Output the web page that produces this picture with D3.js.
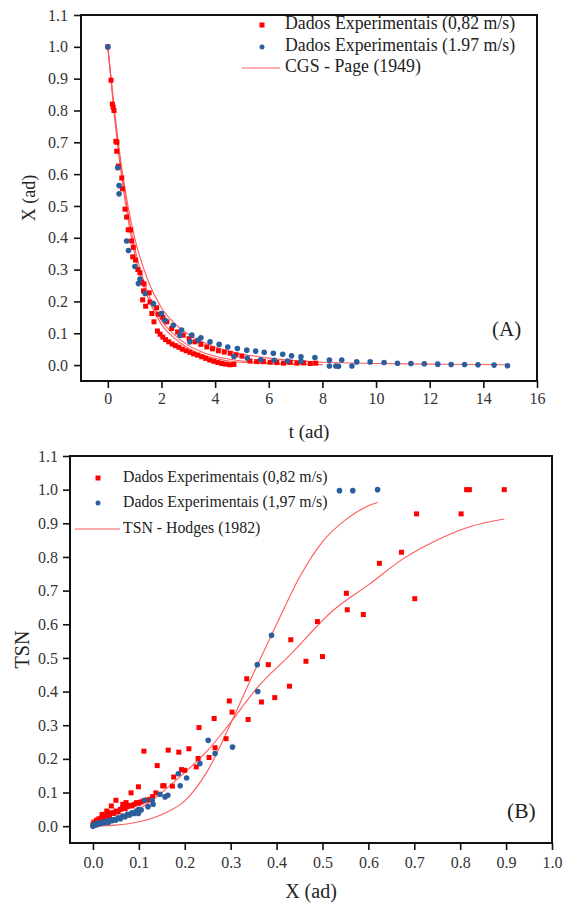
<!DOCTYPE html>
<html>
<head>
<meta charset="utf-8">
<script src="https://cdn.jsdelivr.net/npm/d3@7"></script>
<style>
  html, body { margin: 0; padding: 0; background: #fff; }
  svg { display: block; }
</style>
</head>
<body>
<svg id="chart" width="564" height="904"></svg>
<script>
// ---------- Panel A: drying curves X(t) ----------
const aXTicks = [0, 2, 4, 6, 8, 10, 12, 14, 16];
const aYTicks = [0.0, 0.1, 0.2, 0.3, 0.4, 0.5, 0.6, 0.7, 0.8, 0.9, 1.0, 1.1];
const aLegend = ["Dados Experimentais (0,82 m/s)", "Dados Experimentais (1.97 m/s)", "CGS - Page (1949)"];

// 0,82 m/s, faster run
const aRedFastT = [0, 0.12, 0.2, 0.3, 0.39, 0.52, 0.64, 0.76, 0.89, 0.93, 1.12, 1.2, 1.3, 1.41, 1.57, 1.64, 1.72,
  1.85, 1.95, 2.05, 2.15, 2.27, 2.4, 2.52, 2.65, 2.78, 2.92, 3.06, 3.2, 3.35, 3.5, 3.65, 3.8, 3.95, 4.1, 4.25, 4.4, 4.55, 4.7];
const aRedFastX = [1.0, 0.895, 0.81, 0.703, 0.625, 0.588, 0.49, 0.425, 0.39, 0.34, 0.30, 0.29, 0.205, 0.185, 0.198, 0.162, 0.136,
  0.107, 0.097, 0.088, 0.080, 0.073, 0.066, 0.061, 0.056, 0.050, 0.045, 0.040, 0.035, 0.031, 0.026, 0.021, 0.016, 0.012, 0.008, 0.005, 0.003, 0.001, 0.002];
// 0,82 m/s, slower run
const aRedSlowT = [0.17, 0.23, 0.34, 0.33, 0.55, 0.70, 0.85, 0.95, 1.03, 1.26, 1.35, 1.33, 1.54, 1.82, 1.88, 2.05, 2.2, 2.38, 2.6, 2.81, 3.03, 3.25, 3.47, 3.69,
  3.9, 4.12, 4.34, 4.56, 4.78, 5.0, 5.3, 5.55, 5.8, 6.05, 6.3, 6.55, 6.8, 7.05, 7.3, 7.55, 7.75];
const aRedSlowX = [0.82, 0.80, 0.70, 0.672, 0.554, 0.465, 0.425, 0.37, 0.33, 0.26, 0.255, 0.233, 0.227, 0.18, 0.16, 0.15, 0.136, 0.115, 0.104, 0.094, 0.083, 0.073, 0.065, 0.057,
  0.051, 0.045, 0.041, 0.037, 0.032, 0.028, 0.013, 0.011, 0.012, 0.009, 0.008, 0.006, 0.009, 0.006, 0.007, 0.005, 0.006];
// 1.97 m/s
const aBlueT = [0, 0.37, 0.42, 0.42, 0.70, 0.77, 1.01, 1.14, 1.2, 1.39, 1.70, 2.0, 2.13, 2.44, 2.75, 3.13, 3.47, 3.81, 4.15, 4.47, 4.83, 5.18, 5.51, 5.83,
  6.17, 6.52, 6.85, 7.2, 7.72, 8.26, 8.72, 9.28, 9.78, 10.3, 10.8, 11.3, 11.8, 12.3, 12.8, 13.3, 13.8, 14.4, 14.9,
  2.69, 3.06, 3.37, 4.7, 5.2, 5.7, 6.2, 6.7, 7.2, 8.26, 8.5, 8.6, 9.1];
const aBlueX = [1.0, 0.62, 0.564, 0.538, 0.39, 0.36, 0.31, 0.256, 0.27, 0.225, 0.193, 0.162, 0.141, 0.125, 0.11, 0.094, 0.086, 0.073, 0.065, 0.057, 0.052, 0.047, 0.044, 0.04,
  0.037, 0.034, 0.029, 0.026, 0.024, 0.016, 0.016, 0.01, 0.01, 0.008, 0.006, 0.005, 0.004, 0.003, 0.002, 0.002, 0.001, 0.0, -0.002,
  0.094, 0.073, 0.078, 0.027, 0.022, 0.017, 0.015, 0.013, 0.012, -0.003, -0.003, -0.004, -0.003];

// Page model fits
const aFit1T = [0, 0.25, 0.5, 0.75, 1, 1.5, 2, 2.5, 3, 3.5, 4, 4.5, 5, 6, 7, 8];
const aFit1X = [1, 0.79, 0.62, 0.48, 0.37, 0.225, 0.14, 0.094, 0.062, 0.041, 0.028, 0.019, 0.013, 0.007, 0.004, 0.002];
const aFit2T = [0, 0.25, 0.5, 0.75, 1, 1.5, 2, 2.5, 3, 3.5, 4, 4.5, 5, 6, 7, 8];
const aFit2X = [1, 0.78, 0.6, 0.46, 0.35, 0.21, 0.128, 0.083, 0.053, 0.033, 0.021, 0.013, 0.009, 0.004, 0.002, 0.001];
const aFit3T = [0, 0.25, 0.5, 0.75, 1, 1.5, 2, 2.5, 3, 3.5, 4, 5, 6, 7, 8, 10, 12, 14.9];
const aFit3X = [1, 0.8, 0.63, 0.5, 0.4, 0.265, 0.18, 0.13, 0.097, 0.074, 0.057, 0.035, 0.022, 0.014, 0.009, 0.005, 0.003, 0.001];

// ---------- Panel B: TSN vs X ----------
const bXTicks = [0.0, 0.1, 0.2, 0.3, 0.4, 0.5, 0.6, 0.7, 0.8, 0.9, 1.0];
const bYTicks = [0.0, 0.1, 0.2, 0.3, 0.4, 0.5, 0.6, 0.7, 0.8, 0.9, 1.0, 1.1];
const bLegend = ["Dados Experimentais (0,82 m/s)", "Dados Experimentais (1,97 m/s)", "TSN - Hodges (1982)"];

const bRedX = [0.0, 0.002, 0.005, 0.008, 0.01, 0.013, 0.016, 0.02, 0.024, 0.028, 0.032, 0.036, 0.04, 0.045, 0.05, 0.055, 0.06, 0.065, 0.07, 0.075,
  0.08, 0.085, 0.09, 0.095, 0.1, 0.105, 0.11, 0.118, 0.125, 0.13, 0.05, 0.072, 0.083, 0.099, 0.04, 0.03, 0.02, 0.065,
  0.111, 0.14, 0.164, 0.187, 0.209, 0.137, 0.152, 0.155, 0.173, 0.176, 0.193, 0.2, 0.225, 0.229, 0.231, 0.253, 0.264, 0.266,
  0.29, 0.297, 0.303, 0.335, 0.338, 0.367, 0.382, 0.396, 0.428, 0.431, 0.464, 0.489, 0.5, 0.552, 0.554, 0.589, 0.624, 0.672,
  0.701, 0.705, 0.802, 0.814, 0.82, 0.896];
const bRedY = [0.005, 0.012, 0.01, 0.018, 0.015, 0.022, 0.02, 0.028, 0.025, 0.03, 0.035, 0.03, 0.04, 0.038, 0.045, 0.042, 0.05, 0.055, 0.052, 0.058,
  0.062, 0.06, 0.065, 0.07, 0.068, 0.072, 0.075, 0.078, 0.08, 0.088, 0.077, 0.07, 0.099, 0.117, 0.06, 0.045, 0.035, 0.065,
  0.223, 0.18, 0.226, 0.22, 0.23, 0.099, 0.12, 0.12, 0.119, 0.146, 0.168, 0.166, 0.176, 0.201, 0.293, 0.204, 0.32, 0.233,
  0.26, 0.372, 0.339, 0.438, 0.317, 0.369, 0.48, 0.382, 0.416, 0.554, 0.49, 0.608, 0.504, 0.692, 0.643, 0.629, 0.781, 0.814,
  0.676, 0.928, 0.928, 1.0, 1.0, 1.0];

const bBlueX = [0.0, 0.002, 0.005, 0.008, 0.01, 0.014, 0.018, 0.022, 0.026, 0.03, 0.034, 0.038, 0.042, 0.046, 0.05, 0.055, 0.06, 0.065, 0.07, 0.075,
  0.08, 0.085, 0.09, 0.095, 0.1, 0.105, 0.113, 0.099, 0.12, 0.129, 0.131, 0.146, 0.157, 0.163, 0.186, 0.19, 0.204, 0.233, 0.251, 0.266,
  0.304, 0.358, 0.359, 0.389, 0.537, 0.566, 0.62];
const bBlueY = [0.0, 0.005, 0.003, 0.008, 0.005, 0.01, 0.008, 0.012, 0.01, 0.015, 0.012, 0.018, 0.016, 0.02, 0.018, 0.025, 0.022, 0.03, 0.028, 0.035,
  0.033, 0.04, 0.038, 0.045, 0.05, 0.048, 0.077, 0.038, 0.058, 0.077, 0.065, 0.095, 0.087, 0.092, 0.156, 0.12, 0.143, 0.186, 0.255, 0.216,
  0.235, 0.48, 0.40, 0.567, 0.997, 0.997, 1.0];

// Hodges model fits
const bFit1X = [0, 0.05, 0.1, 0.15, 0.2, 0.25, 0.3, 0.35, 0.4, 0.45, 0.5, 0.55, 0.6, 0.62];
const bFit1Y = [0, 0.003, 0.013, 0.035, 0.075, 0.165, 0.305, 0.455, 0.6, 0.74, 0.845, 0.91, 0.952, 0.962];
const bFit2X = [0, 0.05, 0.102, 0.15, 0.197, 0.25, 0.298, 0.357, 0.43, 0.523, 0.603, 0.676, 0.749, 0.821, 0.896];
const bFit2Y = [0, 0.02, 0.052, 0.1, 0.156, 0.225, 0.305, 0.41, 0.51, 0.641, 0.72, 0.795, 0.85, 0.89, 0.913];

const RED = "#ff0000";
const BLUE = "#2b5e9c";
const FIT = "#ff5a5a";
const SERIF = "'Liberation Serif', 'Times New Roman', serif";

const svg = d3.select("#chart");

function zip(xs, ys) { return xs.map((x, i) => [x, ys[i]]); }

function label(sel, size) {
  return sel.style("font-family", SERIF).style("font-size", size + "px").style("fill", "#222");
}

function panel(cfg) {
  const g = svg.append("g");
  const x = d3.scaleLinear().domain(cfg.xDomain).range(cfg.xRange);
  const y = d3.scaleLinear().domain(cfg.yDomain).range(cfg.yRange);
  const [x0, x1] = cfg.xRange, [y0, y1] = cfg.yRange;

  // frame: top and right borders
  g.append("path")
    .attr("d", `M${x0},${y1}H${x1}V${y0}`)
    .attr("fill", "none").attr("stroke", "#111").attr("stroke-width", 2);

  const xAxis = g.append("g").attr("transform", `translate(0,${y0})`)
    .call(d3.axisBottom(x).tickValues(cfg.xTicks).tickFormat(cfg.xFmt).tickSizeOuter(0).tickSize(7).tickPadding(cfg.xPad));
  const yAxis = g.append("g").attr("transform", `translate(${x0},0)`)
    .call(d3.axisLeft(y).tickValues(cfg.yTicks).tickFormat(d3.format(".1f")).tickSizeOuter(0).tickSize(7).tickPadding(cfg.yPad));
  [xAxis, yAxis].forEach(a => {
    a.select(".domain").attr("stroke", "#111").attr("stroke-width", 2);
    a.selectAll(".tick line").attr("stroke", "#111").attr("stroke-width", 1.6);
    label(a.selectAll(".tick text"), cfg.tickFont).style("fill", "#333");
  });
  xAxis.select(".domain").attr("d", `M${x0 - 1},0H${x1 + 1}`);
  yAxis.select(".domain").attr("d", `M0,${y0 + 1}V${y1 - 1}`);

  const line = d3.line().x(d => x(d[0])).y(d => y(d[1])).curve(d3.curveMonotoneX);
  cfg.fits.forEach(f => {
    g.append("path").attr("d", line(f)).attr("fill", "none")
      .attr("stroke", FIT).attr("stroke-width", 1.1);
  });

  const s = cfg.mark;
  cfg.reds.forEach(set => {
    g.append("g").selectAll("rect").data(set).join("rect")
      .attr("x", d => x(d[0]) - s / 2).attr("y", d => y(d[1]) - s / 2)
      .attr("width", s).attr("height", s).attr("fill", RED);
  });
  cfg.blues.forEach(set => {
    g.append("g").selectAll("circle").data(set).join("circle")
      .attr("cx", d => x(d[0])).attr("cy", d => y(d[1])).attr("r", s / 2 + 0.3).attr("fill", BLUE);
  });

  // axis titles
  label(g.append("text").attr("x", (x0 + x1) / 2).attr("y", cfg.xTitleY)
    .attr("text-anchor", "middle"), cfg.xTitleFont).text(cfg.xTitle);
  label(g.append("text").attr("transform", `translate(${cfg.yTitleX},${(y0 + y1) / 2}) rotate(-90)`)
    .attr("text-anchor", "middle").attr("dominant-baseline", "middle"), cfg.yTitleFont).text(cfg.yTitle);

  // panel tag
  label(g.append("text").attr("x", cfg.tag[0]).attr("y", cfg.tag[1])
    .attr("dominant-baseline", "middle"), cfg.tag[3]).text(cfg.tag[2]);

  // legend
  const L = cfg.legend;
  const lg = g.append("g");
  lg.append("rect").attr("x", L.mx - s / 2).attr("y", L.ys[0] - s / 2).attr("width", s).attr("height", s).attr("fill", RED);
  lg.append("circle").attr("cx", L.mx).attr("cy", L.ys[1]).attr("r", s / 2).attr("fill", BLUE);
  lg.append("line").attr("x1", L.lx[0]).attr("x2", L.lx[1]).attr("y1", L.ys[2]).attr("y2", L.ys[2])
    .attr("stroke", FIT).attr("stroke-width", 1.2);
  L.labels.forEach((t, i) => {
    label(lg.append("text").attr("x", L.tx).attr("y", L.ys[i]).attr("dominant-baseline", "middle"), L.font).text(t);
  });
}

panel({
  xDomain: [-1, 16], xRange: [81, 537],
  yDomain: [-0.05, 1.1], yRange: [381, 15],
  xTicks: aXTicks, yTicks: aYTicks, xFmt: d3.format("d"),
  xPad: 5, yPad: 6, tickFont: 16,
  fits: [zip(aFit1T, aFit1X), zip(aFit2T, aFit2X), zip(aFit3T, aFit3X)],
  reds: [zip(aRedFastT, aRedFastX), zip(aRedSlowT, aRedSlowX)],
  blues: [zip(aBlueT, aBlueX)],
  mark: 5,
  xTitle: "t (ad)", xTitleY: 438, xTitleFont: 19, yTitle: "X (ad)", yTitleX: 31, yTitleFont: 18,
  tag: [492, 331, "(A)", 21],
  legend: { mx: 262, tx: 285, lx: [242, 280], ys: [25, 47, 68], font: 17.8, labels: aLegend }
});

panel({
  xDomain: [-0.05, 1.0], xRange: [70, 552],
  yDomain: [-0.05, 1.1], yRange: [843, 456],
  xTicks: bXTicks, yTicks: bYTicks, xFmt: d3.format(".1f"),
  xPad: 7, yPad: 5, tickFont: 16,
  fits: [zip(bFit1X, bFit1Y), zip(bFit2X, bFit2Y)],
  reds: [zip(bRedX, bRedY)],
  blues: [zip(bBlueX, bBlueY)],
  mark: 5,
  xTitle: "X (ad)", xTitleY: 898, xTitleFont: 20, yTitle: "TSN", yTitleX: 24, yTitleFont: 20,
  tag: [507, 813, "(B)", 21.5],
  legend: { mx: 98, tx: 123, lx: [75, 120], ys: [478, 503, 529], font: 15.8, labels: bLegend }
});
</script>
</body>
</html>
